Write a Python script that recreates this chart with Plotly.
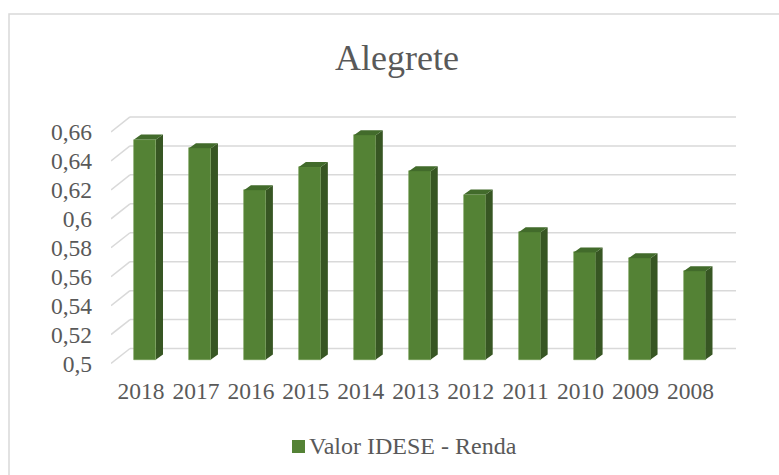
import plotly.graph_objects as go

# data
anos = ['2018', '2017', '2016', '2015', '2014', '2013', '2012', '2011', '2010', '2009', '2008']
renda = [0.652, 0.646, 0.617, 0.633, 0.655, 0.630, 0.614, 0.588, 0.574, 0.570, 0.561]
y_ticks = [0.50, 0.52, 0.54, 0.56, 0.58, 0.60, 0.62, 0.64, 0.66]
y_labels = ['0,5', '0,52', '0,54', '0,56', '0,58', '0,6', '0,62', '0,64', '0,66']
serie = 'Valor IDESE - Renda'

BASE = 0.5
FONT = 'Liberation Serif'
GRAY = '#595959'
VERDE = '#548235'

# plot area in px: left 111, width 625, top 99, height 275
L, W, T, H = 111, 625, 99, 275
X0, X1 = -0.619, 10.755
Y0, Y1 = 0.49, 0.68
px_x = (X1 - X0) / W
px_y = (Y1 - Y0) / H


def paper_x(px):
    return (px - L) / W


def paper_y(py):
    return (T + H - py) / H


w = 0.4
dx, dy = 7 * px_x, 5 * px_y
xs = list(range(len(anos)))

fig = go.Figure()

# front faces
fig.add_trace(go.Bar(
    x=xs, y=[v - BASE for v in renda], base=BASE, width=w,
    marker=dict(color=VERDE, line=dict(color='#6f9a4e', width=0.6)),
    name=serie, showlegend=False))

# side and top faces for the 3d look
side_x, side_y, top_x, top_y = [], [], [], []
for i, v in zip(xs, renda):
    r = i + w / 2
    side_x += [r, r + dx, r + dx, r, r, None]
    side_y += [BASE, BASE + dy, v + dy, v, BASE, None]
    l = i - w / 2
    top_x += [l, r, r + dx, l + dx, l, None]
    top_y += [v, v, v + dy, v + dy, v, None]

fig.add_trace(go.Scatter(x=side_x, y=side_y, fill='toself', fillcolor='#375623',
                         mode='lines', line=dict(width=0, color='#375623'),
                         showlegend=False, hoverinfo='skip'))
fig.add_trace(go.Scatter(x=top_x, y=top_y, fill='toself', fillcolor='#426b2b',
                         mode='lines', line=dict(width=0, color='#426b2b'),
                         showlegend=False, hoverinfo='skip'))

# back wall gridlines + short floor diagonals
back_y = 11 * px_y
front_y = -4 * px_y
wall_x = X0 + 19 * px_x
for t in y_ticks:
    fig.add_shape(type='line', x0=wall_x, x1=X1, y0=t + back_y, y1=t + back_y,
                  line=dict(color='#d9d9d9', width=1.5), layer='below')
    fig.add_shape(type='line', x0=X0, x1=wall_x, y0=t + front_y, y1=t + back_y,
                  line=dict(color='#d9d9d9', width=1.5), layer='below')

# chart border
fig.add_shape(type='rect', xref='paper', yref='paper',
              x0=paper_x(9), x1=1.2, y0=-0.4, y1=paper_y(14),
              line=dict(color='#d9d9d9', width=1.5))

# legend: colour key + text
fig.add_shape(type='rect', xref='paper', yref='paper',
              x0=paper_x(292), x1=paper_x(305), y0=paper_y(453), y1=paper_y(440),
              fillcolor=VERDE, line=dict(width=0))
fig.add_annotation(xref='paper', yref='paper', x=paper_x(307), xanchor='left',
                   y=paper_y(446), yanchor='middle', showarrow=False,
                   text=serie, font=dict(family=FONT, size=24, color=GRAY))

fig.update_layout(
    width=779, height=475,
    margin=dict(l=L, r=779 - L - W, t=T, b=475 - T - H),
    plot_bgcolor='white', paper_bgcolor='white',
    font=dict(family=FONT, size=23.5, color=GRAY),
    title=dict(text='Alegrete', xref='container', yref='container',
               x=397 / 779, y=1 - 57 / 475, xanchor='center', yanchor='middle',
               font=dict(family=FONT, size=36, color=GRAY)),
    xaxis=dict(range=[X0, X1], tickvals=xs, ticktext=anos, showgrid=False,
               zeroline=False, showline=False, ticks='', ticklabelshift=-4),
    yaxis=dict(range=[Y0, Y1], tickvals=y_ticks, ticktext=y_labels, showgrid=False,
               zeroline=False, showline=False, ticks='', ticklabelstandoff=18,
               ticklabelshift=4),
    showlegend=False,
    bargap=0,
)

fig.write_html("out.html", config={'displayModeBar': False},
               post_script="document.body.style.margin='0';")
